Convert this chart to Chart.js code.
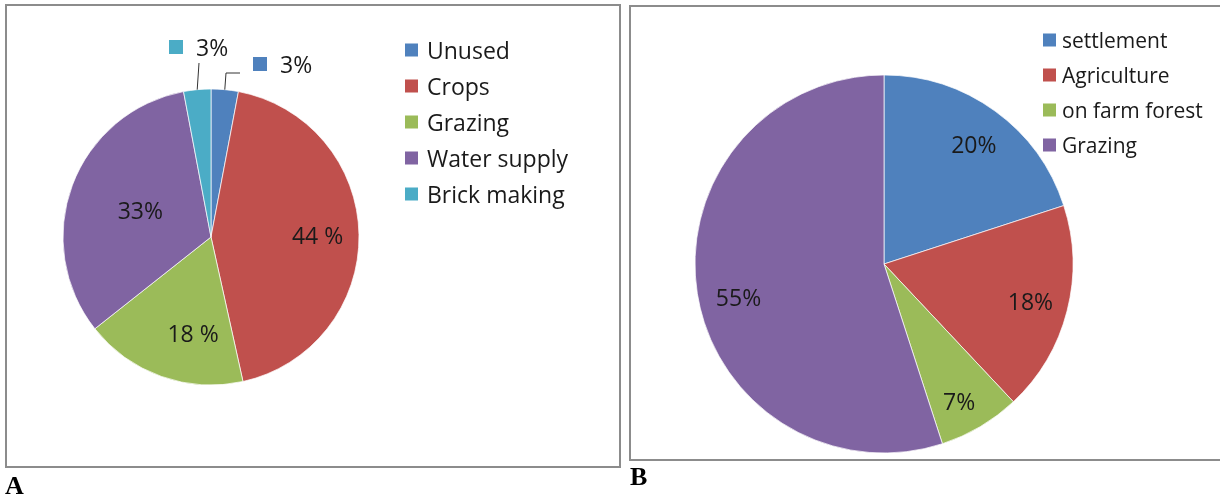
<!DOCTYPE html>
<html>
<head>
<meta charset="utf-8">
<script src="https://cdn.jsdelivr.net/npm/chart.js@4"></script>
<style>
  body { margin: 0; background: #fff; width: 1220px; height: 499px; overflow: hidden; position: relative; }
  .box { position: absolute; border: 2px solid #8c8c8c; box-sizing: border-box; }
  #boxA { left: 5px; top: 4px; width: 616px; height: 464px; }
  #boxB { left: 629px; top: 5px; width: 600px; height: 456px; }
  canvas { position: absolute; top: 0; }
  #chartA { left: 0; }
  #chartB { left: 625px; }
  .tag { position: absolute; font: bold 26px "Liberation Serif", serif; color: #000; }
</style>
</head>
<body>
<div class="box" id="boxA"></div>
<div class="box" id="boxB"></div>
<canvas id="chartA" width="625" height="475"></canvas>
<canvas id="chartB" width="595" height="465"></canvas>
<div class="tag" style="left:5px; top:471px;">A</div>
<div class="tag" style="left:630px; top:462px;">B</div>

<script>
// Gráfico A - uso da terra
const categoriasA = ['Unused', 'Crops', 'Grazing', 'Water supply', 'Brick making'];
const valoresA = [3, 44, 18, 33, 3];
const sufixosA = ['%', ' %', ' %', '%', '%'];

// Gráfico B - uso da terra
const categoriasB = ['settlement', 'Agriculture', 'on farm forest', 'Grazing'];
const valoresB = [20, 18, 7, 55];
const sufixosB = ['%', '%', '%', '%'];

const coresA = ['#4f81bd', '#c0504d', '#9bbb59', '#8064a2', '#4bacc6'];
const coresB = ['#4f81bd', '#c0504d', '#9bbb59', '#8064a2'];

const FONTE = '"Open Sans", "Liberation Sans", sans-serif';
const COR_TEXTO = '#1a1a1a';

// Rótulos de percentagem dentro/fora das fatias
function pluginRotulos(cfg) {
  return {
    id: 'rotulos',
    afterDatasetsDraw(chart) {
      const ctx = chart.ctx;
      const meta = chart.getDatasetMeta(0);
      const ds = chart.data.datasets[0];
      ctx.save();
      ctx.font = cfg.fontSize + 'px ' + FONTE;
      ctx.textBaseline = 'middle';
      meta.data.forEach((arc, i) => {
        const texto = ds.data[i] + cfg.sufixos[i];
        const meio = (arc.startAngle + arc.endAngle) / 2;
        const fora = cfg.fora ? cfg.fora[i] : null;
        if (fora) {
          // linha de chamada + quadrado colorido
          const px = arc.x + Math.cos(meio) * arc.outerRadius;
          const py = arc.y + Math.sin(meio) * arc.outerRadius;
          ctx.strokeStyle = '#333';
          ctx.lineWidth = 1;
          ctx.beginPath();
          ctx.moveTo(px, py);
          fora.linha.forEach(p => ctx.lineTo(p[0], p[1]));
          ctx.stroke();
          ctx.fillStyle = ds.backgroundColor[i];
          ctx.fillRect(fora.x, fora.y, 14, 14);
          ctx.fillStyle = COR_TEXTO;
          ctx.textAlign = 'left';
          ctx.fillText(texto, fora.x + 27, fora.y + 9);
          return;
        }
        const ajuste = cfg.ajustes[i] || [0.8, 0];
        const ang = meio + ajuste[1] * Math.PI / 180;
        const r = arc.outerRadius * ajuste[0];
        ctx.fillStyle = COR_TEXTO;
        ctx.textAlign = 'center';
        ctx.fillText(texto, arc.x + Math.cos(ang) * r, arc.y + Math.sin(ang) * r + 2);
      });
      ctx.restore();
    }
  };
}

// Legenda desenhada à direita
function pluginLegenda(cfg) {
  return {
    id: 'legenda',
    afterDraw(chart) {
      const ctx = chart.ctx;
      const ds = chart.data.datasets[0];
      ctx.save();
      ctx.font = cfg.fontSize + 'px ' + FONTE;
      ctx.textBaseline = 'middle';
      ctx.textAlign = 'left';
      chart.data.labels.forEach((rotulo, i) => {
        const y = cfg.y + i * cfg.passo;
        ctx.fillStyle = ds.backgroundColor[i];
        ctx.fillRect(cfg.x, y - 6.5, 13, 13);
        ctx.fillStyle = COR_TEXTO;
        ctx.fillText(rotulo, cfg.x + cfg.recuo, y + 2);
      });
      ctx.restore();
    }
  };
}

function criarPizza(id, labels, valores, cores, raio, padding, rotulos, legenda) {
  return new Chart(document.getElementById(id), {
    type: 'pie',
    data: {
      labels: labels,
      datasets: [{
        data: valores,
        backgroundColor: cores,
        borderColor: 'rgba(255,255,255,0.7)',
        borderWidth: 1
      }]
    },
    options: {
      responsive: false,
      animation: false,
      radius: raio,
      layout: { padding: padding },
      plugins: {
        legend: { display: false },
        tooltip: { enabled: false }
      }
    },
    plugins: [pluginRotulos(rotulos), pluginLegenda(legenda)]
  });
}

criarPizza('chartA', categoriasA, valoresA, coresA, 148,
  { left: 63, top: 89, right: 266, bottom: 90 },
  {
    fontSize: 23,
    sufixos: sufixosA,
    ajustes: [null, [0.72, 0], [0.66, -9], [0.51, 0], null],
    fora: [
      { x: 253, y: 57, linha: [[226, 73], [240, 73]] },
      null, null, null,
      { x: 169, y: 40, linha: [[199, 63]] }
    ]
  },
  { x: 405, y: 50, passo: 36, fontSize: 23, recuo: 22 }
);

criarPizza('chartB', categoriasB, valoresB, coresB, 189,
  { left: 70, top: 75, right: 147, bottom: 12 },
  {
    fontSize: 23,
    sufixos: sufixosB,
    ajustes: [[0.79, 1], [0.8, 0], [0.83, 2], [0.79, -4]]
  },
  { x: 1043 - 625, y: 40, passo: 35, fontSize: 21, recuo: 19 }
);
</script>
</body>
</html>
